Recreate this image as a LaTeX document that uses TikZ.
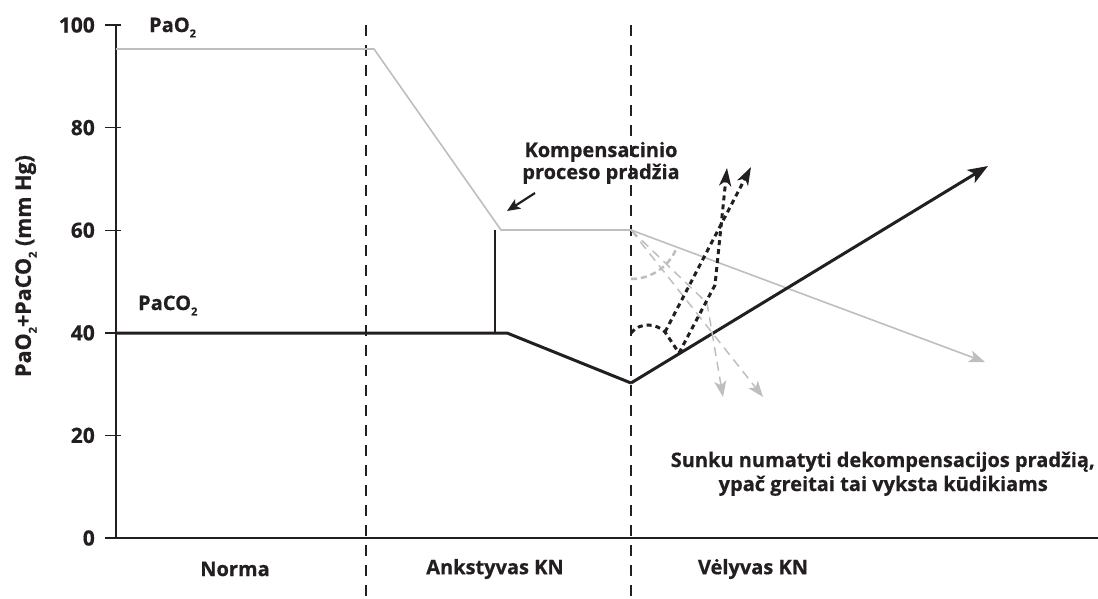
\documentclass[tikz,border=0pt]{standalone}
\usepackage{fontspec}
\setmainfont{Open Sans}[BoldFeatures={FakeBold=0.6}]
\usetikzlibrary{arrows.meta}
\definecolor{ink}{HTML}{231F20}
\definecolor{lgray}{HTML}{BCBEC0}
\newcommand\lowsub[1]{\raisebox{-0.5ex}{\fontsize{11}{11}\selectfont #1}}
\begin{document}
\begin{tikzpicture}[x=1pt,y=-1pt,
  lbl/.style={font=\fontsize{20}{22}\selectfont\bfseries, text=ink, inner sep=0pt},
  ticklbl/.style={font=\fontsize{21}{22}\selectfont\bfseries, text=ink, inner sep=0pt},
  axisline/.style={draw=ink, line width=1.4pt},
  phase/.style={draw=ink, line width=1.2pt, dash pattern=on 11pt off 9pt},
  oxy/.style={draw=lgray, line width=1.6pt},
  carb/.style={draw=ink, line width=3pt},
  blkdot/.style={draw=ink, line width=3pt, dash pattern=on 5pt off 4pt},
  grydash/.style={draw=lgray, line width=1.5pt, dash pattern=on 9pt off 6pt},
  bigtip/.style={-{Stealth[length=20pt,width=15pt,inset=5pt]}},
  midtip/.style={-{Stealth[length=18pt,width=12pt,inset=5pt]}},
  graytip/.style={-{Stealth[length=16pt,width=12pt,inset=4pt]}},
]
\useasboundingbox (0,0) rectangle (1098,598);
% coordinates
\coordinate (yt) at (116,25);
\coordinate (yb) at (116,538);
\coordinate (xl) at (105,538);
\coordinate (xr) at (1098,538);
\coordinate (d1t) at (366,25);
\coordinate (d1b) at (366,598);
\coordinate (d2t) at (631,25);
\coordinate (d2b) at (631,598);
\coordinate (o2a) at (116,49);
\coordinate (o2b) at (374,49);
\coordinate (o2c) at (501,230);
\coordinate (o2d) at (631,230);
\coordinate (o2e) at (985,362);
\coordinate (co2a) at (116,333);
\coordinate (co2b) at (507,333);
\coordinate (co2c) at (631,383);
\coordinate (co2d) at (988,166);
\coordinate (vt) at (495,230);
\coordinate (vb) at (495,333);
\coordinate (ka) at (535,193);
\coordinate (kb) at (507,211);
\coordinate (g1m) at (707,303);
\coordinate (g1e) at (723,397);
\coordinate (g2e) at (763,397);
\coordinate (arcg) at (631,279);
\coordinate (b0) at (631,333);
\coordinate (b1) at (665,332);
\coordinate (b2) at (679,353);
\coordinate (b2m) at (715,285);
\coordinate (bAe) at (751,167);
\coordinate (bBe) at (727,168);

% axes
\draw[axisline] (yt) -- (yb);
\draw[axisline] (xl) -- (xr);
\foreach \v/\n in {0/t0,20/t20,40/t40,60/t60,80/t80,100/t100}{
  \coordinate (\n l) at (105,{538-5.13*\v});
  \coordinate (\n r) at (121,{538-5.13*\v});
  \draw[axisline] (\n l) -- (\n r);
  \node[ticklbl, anchor=east] (\n) at (95,{538-5.13*\v}) {\v};
}
% phase separators
\draw[phase] (d1t) -- (d1b);
\draw[phase] (d2t) -- (d2b);

% PaO2
\draw[oxy, line join=miter] (o2a) -- (o2b) -- (o2c) -- (o2d);
\draw[oxy, graytip] (o2d) -- (o2e);
% PaCO2
\draw[carb] (co2a) -- (co2b) -- (co2c);
\draw[carb, bigtip] (co2c) -- (co2d);
\draw[draw=ink, line width=1.5pt] (vt) -- (vb);

% compensation arrow
\draw[draw=ink, line width=2.2pt, -{Stealth[length=13pt,width=11pt,inset=3pt]}] (ka) -- (kb);

% gray dashed alternatives
\draw[draw=lgray, line width=2.5pt, dash pattern=on 6pt off 4pt] (arcg) arc[start angle=90, end angle=21, radius=49];
\draw[grydash, graytip] (o2d) -- (g1m) -- (g1e);
\draw[grydash, graytip] (o2d) -- (g2e);

% black dotted alternatives
\draw[blkdot] (b0) .. controls (640,322) and (656,323) .. (b1) -- (b2);
\draw[blkdot, midtip] (b1) -- (bAe);
\draw[blkdot, midtip] (b2) -- (b2m) -- (bBe);

% labels
\node[lbl, anchor=base west] (lo2) at (149,32) {PaO\lowsub{2}};
\node[lbl, anchor=base west] (lco2) at (138,310) {PaCO\lowsub{2}};
\node[lbl, font=\fontsize{21.5}{22}\selectfont\bfseries, anchor=center, rotate=90] (ylab) at (26,266) {PaO\lowsub{2}+PaCO\lowsub{2} (mm Hg)};
\node[lbl, anchor=base] (k1) at (601,157) {Kompensacinio};
\node[lbl, anchor=base] (k2) at (601,179) {proceso pradžia};
\node[lbl, anchor=base east] (s1) at (1095,467) {Sunku numatyti dekompensacijos pradžią,};
\node[lbl, anchor=base east] (s2) at (1048,491) {ypač greitai tai vyksta kūdikiams};
\node[lbl, anchor=center] (p1) at (235,569) {Norma};
\node[lbl, anchor=center] (p2) at (495,569) {Ankstyvas KN};
\node[lbl, anchor=center] (p3) at (753,569) {Vėlyvas KN};
\end{tikzpicture}
\end{document}
